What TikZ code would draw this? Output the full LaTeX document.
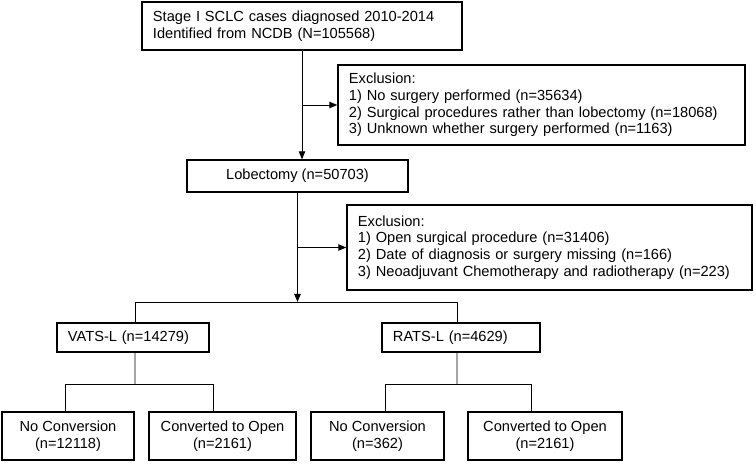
\documentclass[tikz,border=0pt]{standalone}
\usepackage{fontspec}
\setmainfont{Liberation Sans}
\usetikzlibrary{arrows.meta}

\begin{document}
\begin{tikzpicture}[x=0.025cm, y=-0.025cm, >={Triangle[length=0.2cm, width=0.16cm]},
    box/.style={draw, line width=0.9pt, inner xsep=0.275cm, inner ysep=0pt, font=\fontsize{10.4}{11.9}\selectfont},
    leftbox/.style={box, align=left},
    midbox/.style={box, align=center},
    link/.style={line width=0.7pt}]
        \useasboundingbox (0,0) rectangle (755,464);
        \node[leftbox, text width=7.45cm, minimum height=1.2cm] (stage) at (302,26) {Stage I SCLC cases diagnosed 2010-2014\\Identified from NCDB (N=105568)};
        \node[leftbox, text width=9.625cm, minimum height=2cm] (excla) at (541.5,105) {Exclusion:\\1) No surgery performed (n=35634)\\2) Surgical procedures rather than lobectomy (n=18068)\\3) Unknown whether surgery performed (n=1163)};
        \node[midbox, minimum width=5.525cm, minimum height=0.8cm] (lobect) at (297.5,176) {Lobectomy (n=50703)};
        \node[leftbox, text width=9.575cm, minimum height=2.125cm] (exclb) at (549.5,247.5) {Exclusion:\\1) Open surgical procedure (n=31406)\\2) Date of diagnosis or surgery missing (n=166)\\3) Neoadjuvant Chemotherapy and radiotherapy (n=223)};
        \node[leftbox, text width=3.25cm, minimum height=0.725cm] (vats) at (133,337.5) {VATS-L (n=14279)};
        \node[leftbox, text width=3.4cm, minimum height=0.725cm] (rats) at (461,337.5) {RATS-L (n=4629)};
        \node[midbox, minimum width=3.3cm, minimum height=1.2cm] (vatsno) at (68,436) {No Conversion\\(n=12118)};
        \node[midbox, minimum width=3.675cm, minimum height=1.2cm] (vatsopen) at (222.5,436) {Converted to Open\\(n=2161)};
        \node[midbox, minimum width=3.325cm, minimum height=1.2cm] (ratsno) at (377.5,436) {No Conversion\\(n=362)};
        \node[midbox, minimum width=3.85cm, minimum height=1.2cm] (ratsopen) at (545,436) {Converted to Open\\(n=2161)};
        \coordinate (split) at (297.5,302);
        \path (vats.south) ++(2,32) coordinate (vatsjoin);
        \path (rats.south) ++(-4,32) coordinate (ratsjoin);
        \draw[link, ->] (stage.south) -- (stage.south |- lobect.north);
        \draw[link, ->] (stage.south |- excla.west) -- (excla.west);
        \draw[link, ->] (lobect.south) -- (split);
        \draw[link, ->] (lobect.south |- exclb.west) -- (exclb.west);
        % branch to the two approaches
        \draw[link] ([xshift=0.05cm]vats.north) |- ([xshift=-0.1cm]rats.north |- split) -- ([xshift=-0.1cm]rats.north);
        \draw[link] ([xshift=0.05cm]vats.south) -- (vatsjoin);
        \draw[link] ([xshift=-0.075cm]vatsno.north) |- (vatsjoin) -| ([xshift=-0.225cm]vatsopen.north);
        \draw[link] ([xshift=-0.1cm]rats.south) -- (ratsjoin);
        \draw[link] ([xshift=0.19cm]ratsno.north) |- (ratsjoin) -| ([xshift=-0.35cm]ratsopen.north);
      \end{tikzpicture}
\end{document}
